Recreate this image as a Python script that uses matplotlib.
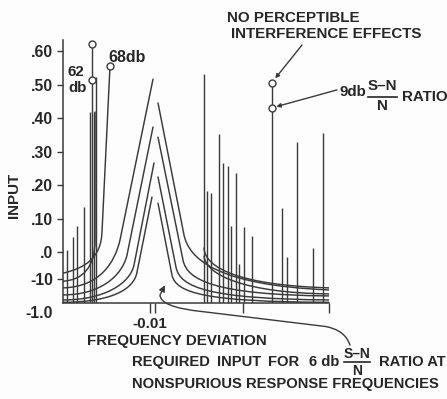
import matplotlib
matplotlib.use("Agg")
import matplotlib.pyplot as plt
from matplotlib.path import Path
from matplotlib.patches import PathPatch, FancyArrowPatch

plt.rcParams['font.family'] = ['Liberation Sans', 'DejaVu Sans']
plt.rcParams['font.weight'] = 'bold'

INK = '#262626'
LINE = '#3a3a3a'
FS = 10.9

# ---- input scale (chart divisions) ----
y_ticks = [6, 5, 4, 3, 2, 1, 0, -0.81]
y_labels = ['.60', '.50', '.40', '.30', '.20', '.10', '.0', '-10']
y_floor = -1.53
y_floor_label = '-1.0'

# ---- frequency deviation axis ----
x_ticks = [87, 92, 180, 266]
x_labels = ['-0.01', '', '', '']

# ---- spurious responses: frequency position and input reached ----
left_spur_x = [4, 10, 14, 21, 27, 29, 31, 33]
left_spur_top = [0.06, 0.45, 0.78, 1.34, 4.18, 6.21, 4.18, 5.22]
mid_spur_x = [141, 144, 148, 156, 160, 165, 168, 173, 176, 181, 189]
mid_spur_top = [5.31, 1.82, 1.76, 3.52, 2.66, 2.57, 0.78, 2.36, -0.36, 0.75, 0.48]
far_spur_x = [209, 219, 224, 234, 250, 260]
far_spur_top = [5.04, 1.31, -0.15, 3.28, 0.12, 3.55]

# marked levels (no perceptible interference / 9 db S-N ratio)
marked_x = [29, 29, 47, 209, 209]
marked_y = [6.21, 5.13, 5.55, 5.04, 4.30]

# ---- required-input curves (bezier nodes) ----
curve_68db = [('M', (47, 5.55)), ('L', (39, 0.60)),
              ('C', (38, -0.18), (22, -0.48), (0, -0.63))]
curve_62db = [('M', (32, 4.18)), ('L', (32, 0.36)),
              ('C', (32, -0.48), (19, -0.84), (0, -0.87))]

peak_left = [
    [('M', (0, -1.07)), ('C', (37, -1.04), (52, -0.30), (57, 0.36)), ('L', (90, 5.16))],
    [('M', (0, -1.28)), ('C', (37, -1.28), (59, -0.72), (64, -0.09)), ('L', (90, 3.73))],
    [('M', (0, -1.43)), ('C', (42, -1.43), (67, -0.93), (71, -0.39)), ('L', (91, 2.66))],
    [('M', (0, -1.50)), ('C', (47, -1.50), (71, -1.13), (74, -0.60)), ('L', (89, 1.64))],
]
peak_right = [
    [('M', (95, 4.45)), ('L', (121, 0.51)), ('C', (126, -0.18), (152, -0.99), (266, -1.13))],
    [('M', (95, 3.43)), ('L', (120, -0.24)), ('C', (124, -0.84), (152, -1.28), (266, -1.31))],
    [('M', (95, 2.24)), ('L', (113, -0.45)), ('C', (117, -1.07), (147, -1.40), (266, -1.43))],
    [('M', (95, 1.46)), ('L', (109, -0.69)), ('C', (113, -1.22), (142, -1.49), (266, -1.50))],
]
right_short = [
    [('M', (141, 0.12)), ('C', (142, -0.48), (177, -0.99), (266, -1.07))],
    [('M', (141, -0.12)), ('C', (143, -0.69), (182, -1.22), (266, -1.25))],
]

W, H = 447, 399
fig = plt.figure(figsize=(W / 100, H / 100), dpi=100)
fig.patch.set_facecolor('#fdfdfd')
ax = fig.add_axes([63 / W, 1 - 303.3 / H, 266 / W, 263.3 / H])
ax.set_facecolor('none')
ax.set_xlim(0, 266)
ax.set_ylim(y_floor, 6.33)

for s in ('top', 'right'):
    ax.spines[s].set_visible(False)
for s in ('left', 'bottom'):
    ax.spines[s].set_color(LINE)
    ax.spines[s].set_linewidth(1.1)

ax.set_yticks(y_ticks)
ax.set_yticklabels(y_labels)
ax.set_xticks(x_ticks)
ax.set_xticklabels(x_labels)
ax.tick_params(axis='y', direction='out', length=4.3, width=1.0, color=LINE,
               pad=3, labelsize=11.3, labelcolor=INK)
ax.tick_params(axis='x', direction='out', length=7, width=1.0, color=LINE,
               pad=3, labelsize=FS, labelcolor=INK)
ax.annotate(y_floor_label, xy=(0, y_floor), xycoords=('axes fraction', 'data'),
            xytext=(-7.5, -7), textcoords='offset points', ha='right', va='center',
            fontsize=11.3, color=INK, annotation_clip=False)


def draw_path(segments, **kw):
    verts, codes = [], []
    for seg in segments:
        kind, pts = seg[0], seg[1:]
        if kind == 'M':
            verts.append(pts[0]); codes.append(Path.MOVETO)
        elif kind == 'L':
            verts.append(pts[0]); codes.append(Path.LINETO)
        elif kind == 'C':
            verts.extend(pts); codes.extend([Path.CURVE4] * 3)
    ax.add_patch(PathPatch(Path(verts, codes), fill=False, ec=LINE, lw=1.05,
                           capstyle='round', joinstyle='round', **kw))


for c in [curve_68db, curve_62db] + peak_left + peak_right + right_short:
    draw_path(c)

for xs, tops in ((left_spur_x, left_spur_top), (mid_spur_x, mid_spur_top),
                 (far_spur_x, far_spur_top)):
    ax.vlines(xs, y_floor, tops, colors=LINE, lw=1.0)

ax.plot(marked_x, marked_y, 'o', ms=5, mfc='white', mec=LINE, mew=1.0, clip_on=False)

# leaders to the marked levels
ax.annotate('', xy=(210.5, 5.12), xytext=(239, 6.18),
            arrowprops=dict(arrowstyle='-|>', lw=1.0, color=LINE, shrinkA=0, shrinkB=2,
                            mutation_scale=6), annotation_clip=False)
ax.annotate('', xy=(212, 4.33), xytext=(274, 4.84),
            arrowprops=dict(arrowstyle='-|>', lw=1.0, color=LINE, shrinkA=0, shrinkB=1,
                            mutation_scale=6), annotation_clip=False)

# hooked leader to the nonspurious response curve
hook = Path([(287, -2.78), (282, -2.32), (262, -2.22), (140, -1.78),
             (97, -1.65), (97, -1.28), (102, -0.99)],
            [Path.MOVETO, Path.CURVE3, Path.CURVE3, Path.LINETO,
             Path.CURVE3, Path.CURVE3, Path.LINETO])
ax.add_patch(FancyArrowPatch(path=hook, arrowstyle='-|>', mutation_scale=9,
                             color=LINE, lw=1.0, clip_on=False))


def label(px, py, s, **kw):
    kw.setdefault('fontsize', FS)
    kw.setdefault('color', INK)
    kw.setdefault('va', 'center')
    fig.text(px / W, 1 - py / H, s, **kw)


label(14, 195, 'INPUT', rotation=90, ha='center')
label(87, 341, 'FREQUENCY DEVIATION', ha='left')
label(68, 72, '62', ha='left')
label(68, 88, 'db', ha='left')
label(108, 57, '68db', ha='left', fontsize=11.5)

label(227, 18, 'NO PERCEPTIBLE', ha='left')
label(231, 34, 'INTERFERENCE EFFECTS', ha='left')
label(339, 92, '9db', ha='left')
label(382, 86, 'S\u2013N', ha='center')
label(382, 106, 'N', ha='center')
fig.add_artist(plt.Line2D([368 / W, 397 / W], [1 - 97 / H, 1 - 97 / H], color=INK, lw=1.2))
label(402, 97, 'RATIO', ha='left')

BS = 10.6
label(132, 362, 'REQUIRED', ha='left', fontsize=BS)
label(217, 362, 'INPUT', ha='left', fontsize=BS)
label(268, 362, 'FOR', ha='left', fontsize=BS)
label(309, 362, '6 db', ha='left', fontsize=BS)
label(357, 354, 'S\u2013N', ha='center', fontsize=10)
label(357, 371, 'N', ha='center', fontsize=10)
fig.add_artist(plt.Line2D([344 / W, 370 / W], [1 - 362 / H, 1 - 362 / H], color=INK, lw=1.2))
label(446, 362, 'RATIO AT', ha='right', fontsize=BS)
label(132, 384, 'NONSPURIOUS RESPONSE FREQUENCIES', ha='left', fontsize=BS)

fig.savefig('out.png', dpi=100, facecolor=fig.get_facecolor())
